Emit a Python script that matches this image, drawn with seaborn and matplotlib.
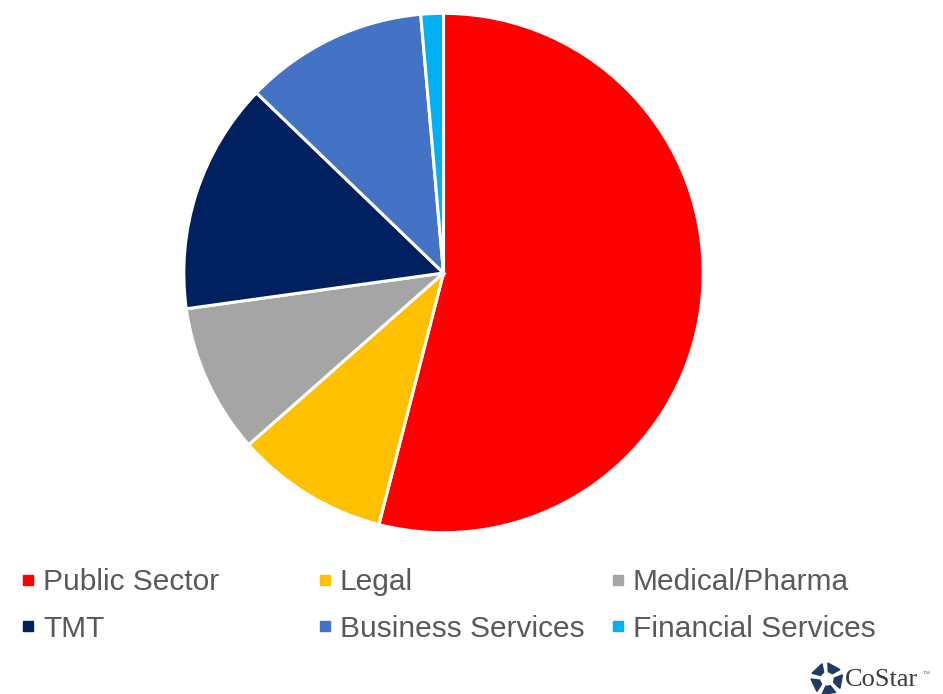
import numpy as np
import matplotlib
matplotlib.use("Agg")
import matplotlib.pyplot as plt
from matplotlib.lines import Line2D
from matplotlib.patches import Polygon
import seaborn as sns

# Share of leasing activity by occupier sector (%)
sectors = ["Public Sector", "Legal", "Medical/Pharma", "TMT",
           "Business Services", "Financial Services"]
shares = [54.0, 9.5, 9.3, 14.4, 11.4, 1.4]
colors = ["#FF0000", "#FFC000", "#A5A5A5", "#002060", "#4472C4", "#00B0F0"]

sns.set_theme(style="white")
plt.rcParams["font.family"] = ["Liberation Sans", "DejaVu Sans"]

W, H = 943, 694
fig = plt.figure(figsize=(W / 100, H / 100), dpi=100)
fig.patch.set_facecolor("white")

# Pie axes: centre and radius in pixels
cx, cy, r = 443.5, 273, 261
ax = fig.add_axes([(cx - r) / W, 1 - (cy + r) / H, 2 * r / W, 2 * r / H])
ax.pie(shares, colors=colors, startangle=90, counterclock=False,
       radius=1.0, wedgeprops=dict(edgecolor="white", linewidth=2.2))
ax.set_xlim(-1.005, 1.005)
ax.set_ylim(-1.005, 1.005)
ax.set_aspect("equal")
ax.axis("off")

# Legend: three columns, two rows
col_x = [19, 316, 609]
text_color = "#595959"
for c in range(3):
    idx = [c, c + 3]
    handles = [Line2D([], [], marker="s", linestyle="none", markersize=7.5,
                      markerfacecolor=colors[i], markeredgecolor=colors[i])
               for i in idx]
    leg = fig.legend(handles, [sectors[i] for i in idx],
                     loc="upper left",
                     bbox_to_anchor=(col_x[c] / W, 1 - 568 / H),
                     frameon=False, fontsize=21.5, handlelength=0.6,
                     handletextpad=0.2, labelspacing=0.62,
                     borderpad=0, borderaxespad=0)
    for t in leg.get_texts():
        t.set_color(text_color)

# CoStar brand mark
lax = fig.add_axes([0, 0, 1, 1], facecolor="none")
lax.set_xlim(0, W)
lax.set_ylim(H, 0)
lax.axis("off")
lx, ly = 827, 679
for k in range(5):
    a = np.deg2rad(-90 + 72 * k + 10)
    b = a + np.deg2rad(44)
    r1, r2 = 7.5, 16
    pts = [(lx + r1 * np.cos(a), ly + r1 * np.sin(a)),
           (lx + r2 * np.cos(a - 0.12), ly + r2 * np.sin(a - 0.12)),
           (lx + r2 * np.cos(b), ly + r2 * np.sin(b)),
           (lx + r1 * np.cos(b - 0.15), ly + r1 * np.sin(b - 0.15))]
    lax.add_patch(Polygon(pts, closed=True, color="#1F3A68"))
fig.text(845 / W, 1 - 680 / H, "CoStar", fontsize=19,
         family=["Liberation Serif", "DejaVu Serif"], color="#3A3A3A",
         va="center", ha="left")
fig.text(923 / W, 1 - 674 / H, "™", fontsize=5,
         family=["Liberation Serif", "DejaVu Serif"], color="#555555",
         va="center", ha="left")

fig.savefig("out.png", dpi=100, facecolor="white")
